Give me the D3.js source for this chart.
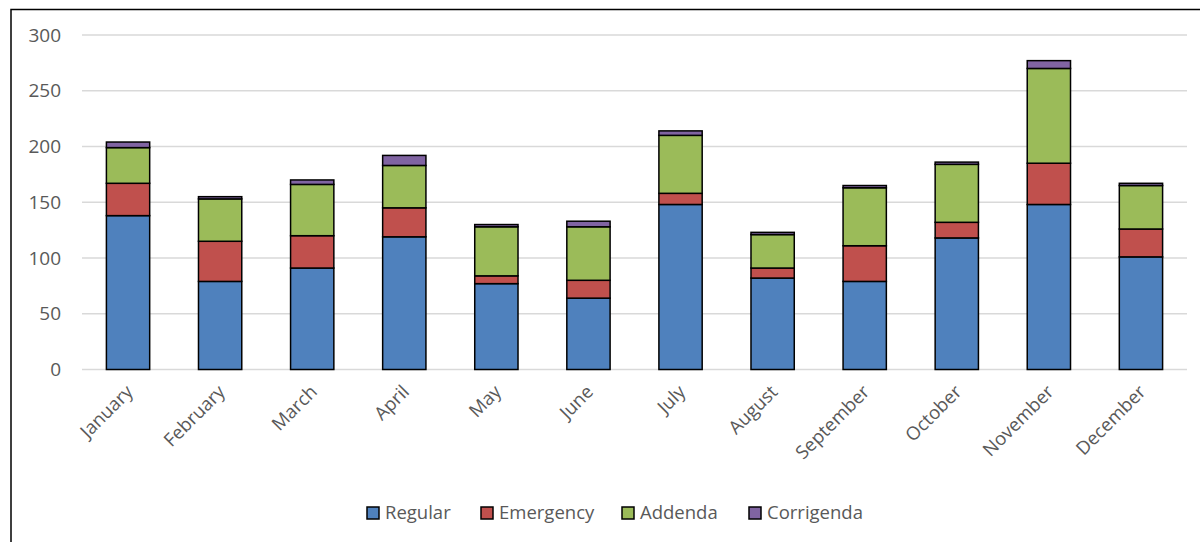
<!DOCTYPE html>
<meta charset="utf-8">
<style>
body { margin: 0; background: #fff; }
text { font-family: "Open Sans", sans-serif; fill: #595959; }
.grid line { stroke: #d9d9d9; stroke-width: 1.5px; }
.bars rect { stroke: #000; stroke-width: 1.5px; }
</style>
<svg width="1200" height="542"></svg>
<script src="https://cdn.jsdelivr.net/npm/d3@7"></script>
<script>

var months = ["January", "February", "March", "April", "May", "June", "July",
  "August", "September", "October", "November", "December"];
var seriesNames = ["Regular", "Emergency", "Addenda", "Corrigenda"];
var regular    = [138, 79, 91, 119, 77, 64, 148, 82, 79, 118, 148, 101];
var emergency  = [29, 36, 29, 26, 7, 16, 10, 9, 32, 14, 37, 25];
var addenda    = [32, 38, 46, 38, 44, 48, 52, 30, 52, 52, 85, 39];
var corrigenda = [5, 2, 4, 9, 2, 5, 4, 2, 2, 2, 7, 2];
var yTicks = [0, 50, 100, 150, 200, 250, 300];
var colors = ["#4f81bd", "#c0504d", "#9bbb59", "#8064a2"];

var svg = d3.select("svg"),
    width = +svg.attr("width"),
    height = +svg.attr("height");

// outer chart border
svg.append("rect")
    .attr("x", 11).attr("y", 9.5)
    .attr("width", 1200).attr("height", 600)
    .attr("fill", "none")
    .attr("stroke", "#000")
    .attr("stroke-width", 1.5);

var rows = months.map(function(m, i) {
  return { month: m, Regular: regular[i], Emergency: emergency[i],
           Addenda: addenda[i], Corrigenda: corrigenda[i] };
});

var x = d3.scaleBand()
    .domain(months)
    .range([82, 1187])
    .paddingInner(0.53)
    .paddingOuter(0.265);

var y = d3.scaleLinear()
    .domain([0, 300])
    .range([369.5, 35]);

var color = d3.scaleOrdinal().domain(seriesNames).range(colors);

svg.append("g")
    .attr("class", "grid")
  .selectAll("line")
  .data(yTicks)
  .enter().append("line")
    .attr("x1", 82).attr("x2", 1187)
    .attr("y1", function(d) { return y(d); })
    .attr("y2", function(d) { return y(d); });

svg.append("g")
  .selectAll("text")
  .data(yTicks)
  .enter().append("text")
    .attr("x", 61)
    .attr("y", function(d) { return y(d); })
    .attr("dy", "0.35em")
    .attr("text-anchor", "end")
    .style("font-size", "19px")
    .text(function(d) { return d; });

var stacked = d3.stack().keys(seriesNames)(rows);

svg.append("g")
    .attr("class", "bars")
  .selectAll("g")
  .data(stacked)
  .enter().append("g")
    .attr("fill", function(d) { return color(d.key); })
  .selectAll("rect")
  .data(function(d) { return d; })
  .enter().append("rect")
    .attr("x", function(d) { return x(d.data.month); })
    .attr("y", function(d) { return y(d[1]); })
    .attr("width", x.bandwidth())
    .attr("height", function(d) { return y(d[0]) - y(d[1]); });

svg.append("g")
  .selectAll("text")
  .data(months)
  .enter().append("text")
    .attr("transform", function(d) {
      return "translate(" + (x(d) + x.bandwidth() / 2 + 6) + ",393) rotate(-45)";
    })
    .attr("text-anchor", "end")
    .style("font-size", "18.5px")
    .text(function(d) { return d; });

// legend
var legendX = [367, 481, 622, 749];
var legend = svg.append("g")
  .selectAll("g")
  .data(seriesNames)
  .enter().append("g")
    .attr("transform", function(d, i) { return "translate(" + legendX[i] + ",513)"; });

legend.append("rect")
    .attr("x", 0).attr("y", -6)
    .attr("width", 12).attr("height", 12)
    .attr("fill", function(d) { return color(d); })
    .attr("stroke", "#000")
    .attr("stroke-width", 1.5);

legend.append("text")
    .attr("x", 18)
    .attr("dy", "0.35em")
    .style("font-size", "18.5px")
    .text(function(d) { return d; });

</script>
